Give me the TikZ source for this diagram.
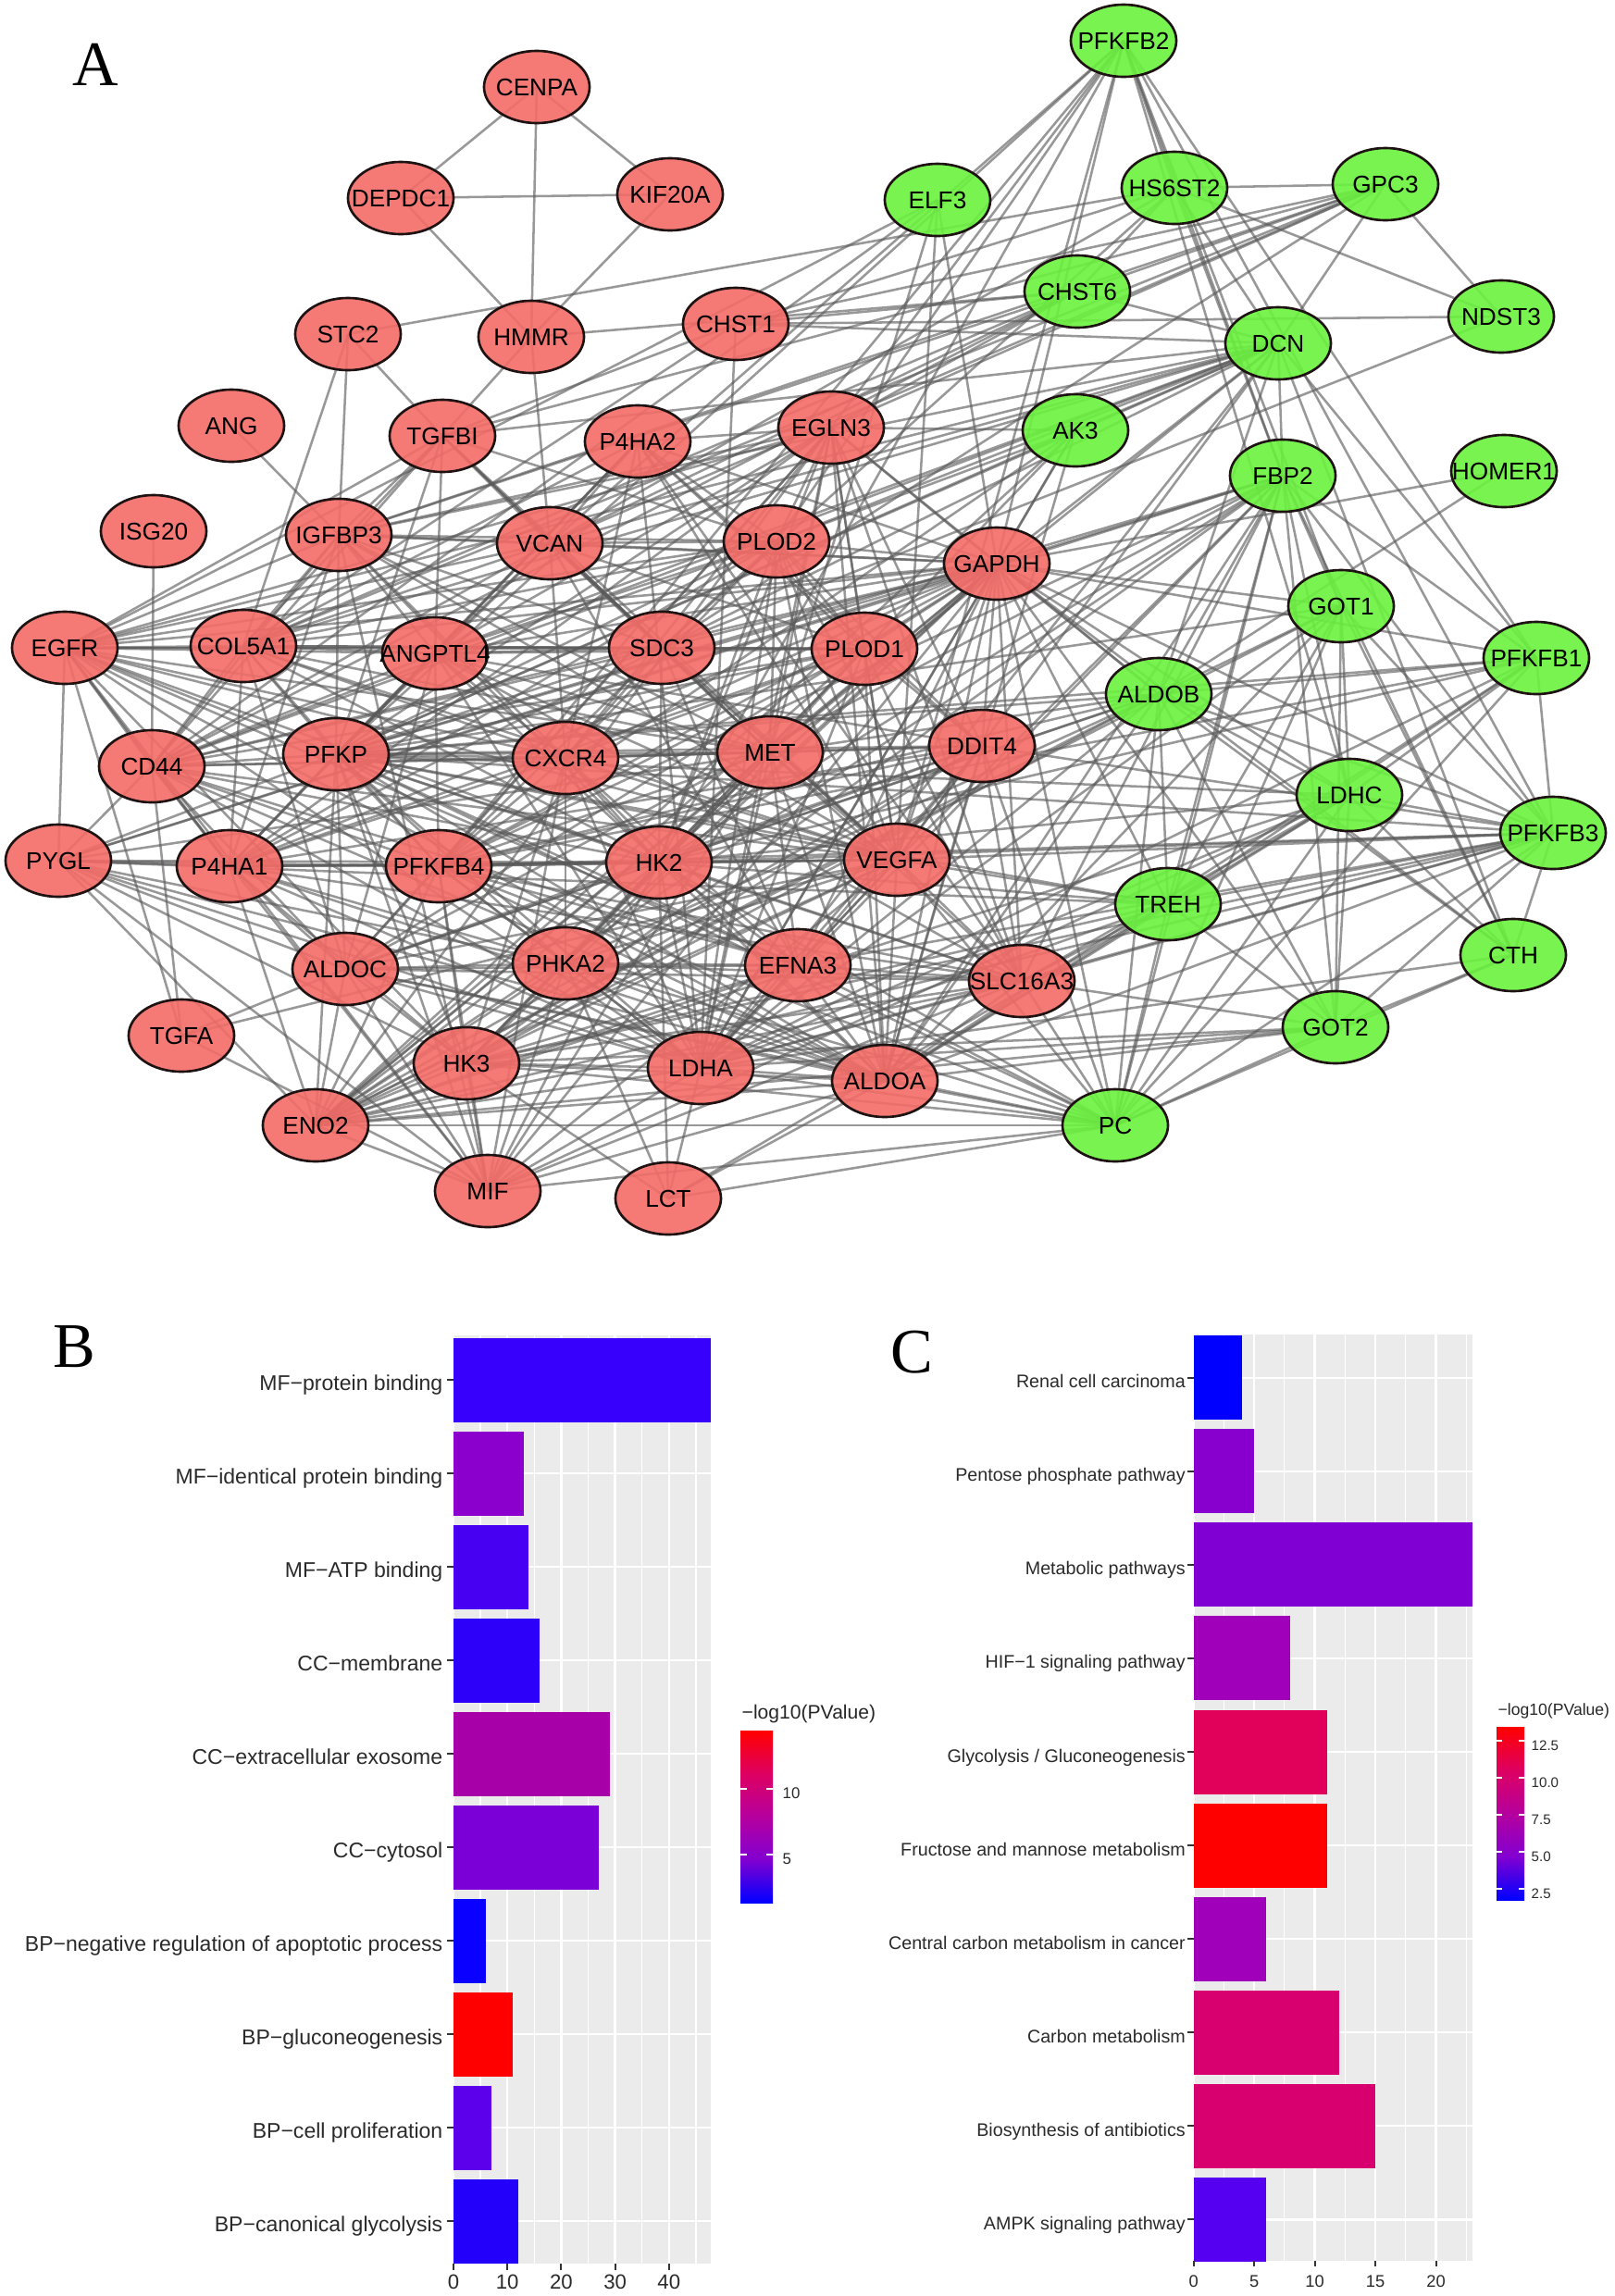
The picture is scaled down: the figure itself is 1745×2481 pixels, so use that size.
\documentclass[tikz,border=0pt]{standalone}
\usepackage{fontspec}
\setmainfont{Liberation Sans}
\newfontfamily\seriffont{Liberation Serif}
\usetikzlibrary{shapes.geometric}
\pgfdeclarelayer{bg}
\pgfdeclarelayer{paper}
\pgfsetlayers{paper,bg,main}
\definecolor{nred}{RGB}{244,108,104}
\definecolor{ngreen}{RGB}{106,242,62}
\definecolor{nborder}{RGB}{30,18,18}
\definecolor{edgec}{RGB}{90,90,90}
\definecolor{panelbg}{RGB}{235,235,235}
\definecolor{axtxt}{RGB}{42,42,42}
\definecolor{tickc}{RGB}{51,51,51}
% bar colours B
\definecolor{bB0}{RGB}{55,0,252}
\definecolor{bB1}{RGB}{140,0,205}
\definecolor{bB2}{RGB}{72,0,242}
\definecolor{bB3}{RGB}{45,0,250}
\definecolor{bB4}{RGB}{168,0,168}
\definecolor{bB5}{RGB}{122,0,215}
\definecolor{bB6}{RGB}{10,0,255}
\definecolor{bB7}{RGB}{255,0,0}
\definecolor{bB8}{RGB}{92,0,235}
\definecolor{bB9}{RGB}{35,0,250}
% bar colours C
\definecolor{bC0}{RGB}{0,0,255}
\definecolor{bC1}{RGB}{135,0,205}
\definecolor{bC2}{RGB}{128,0,212}
\definecolor{bC3}{RGB}{160,0,185}
\definecolor{bC4}{RGB}{225,0,90}
\definecolor{bC5}{RGB}{255,0,0}
\definecolor{bC6}{RGB}{160,0,185}
\definecolor{bC7}{RGB}{215,0,110}
\definecolor{bC8}{RGB}{215,0,110}
\definecolor{bC9}{RGB}{85,0,240}
\pgfdeclareverticalshading{pval}{100bp}{rgb(0bp)=(0,0,1); rgb(25bp)=(0,0,1); rgb(37.5bp)=(0.51,0,0.82); rgb(50bp)=(0.71,0,0.62); rgb(62.5bp)=(0.87,0,0.38); rgb(75bp)=(1,0,0); rgb(100bp)=(1,0,0)}
\tikzset{
  gene/.style={ellipse, draw=nborder, line width=0.75pt, minimum width=1.14cm, minimum height=0.78cm,
    inner sep=0pt, fill opacity=0.9, text opacity=1, font=\fontsize{7.45}{8}\selectfont},
  rgene/.style={gene, fill=nred},
  ggene/.style={gene, fill=ngreen},
  edge/.style={draw=edgec, line width=0.72pt, draw opacity=0.62},
  panelletter/.style={inner sep=0pt, font=\seriffont\fontsize{19.5}{20}\selectfont},
  blab/.style={anchor=mid east, inner sep=0pt, text=axtxt, font=\fontsize{6.55}{7}\selectfont},
  clab/.style={anchor=mid east, inner sep=0pt, text=axtxt, font=\fontsize{5.6}{6}\selectfont},
  bnum/.style={anchor=north, inner sep=0pt, text=axtxt, font=\fontsize{6.3}{7}\selectfont},
  cnum/.style={anchor=north, inner sep=0pt, text=axtxt, font=\fontsize{5.2}{6}\selectfont},
  majgrid/.style={draw=white, line width=0.7pt},
  mingrid/.style={draw=white, line width=0.35pt},
  axtick/.style={draw=tickc, line width=0.6pt},
}
\begin{document}
\begin{tikzpicture}[x=0.01cm,y=-0.01cm]
\begin{pgfonlayer}{paper}
\fill[white] (0,0) rectangle (1745,2481);
\end{pgfonlayer}
\useasboundingbox (0,0) rectangle (1745,2481);

% ---------------- Panel A: network ----------------
\node[panelletter] (letA) at (103,70) {A};

\foreach \n/\x/\y in {CENPA/580/94, DEPDC1/433/214, KIF20A/724/210, STC2/376/361, HMMR/574/364,
  CHST1/795/350, ANG/250/460, TGFBI/478/471, P4HA2/689/477, EGLN3/898/462, ISG20/166/574,
  IGFBP3/366/578, VCAN/594/587, PLOD2/839/585, GAPDH/1077/609, EGFR/70/700, COL5A1/263/698,
  ANGPTL4/470/706, SDC3/715/700, PLOD1/934/701, CD44/164/828, PFKP/363/815, CXCR4/611/819,
  MET/832/813, DDIT4/1061/806, PYGL/63/930, P4HA1/248/936, PFKFB4/474/936, HK2/712/932,
  VEGFA/969/929, ALDOC/373/1047, PHKA2/611/1041, EFNA3/862/1043, SLC16A3/1104/1060,
  TGFA/196/1119, HK3/504/1149, LDHA/757/1154, ALDOA/956/1168, ENO2/341/1216, MIF/527/1287,
  LCT/722/1295}
  \node[rgene] (\n) at (\x,\y) {\makebox[0pt]{\n}};

\foreach \n/\x/\y in {PFKFB2/1214/44, ELF3/1013/216, HS6ST2/1269/203, GPC3/1497/199,
  CHST6/1164/315, DCN/1381/371, NDST3/1622/342, AK3/1162/465, FBP2/1386/514, HOMER1/1625/509,
  GOT1/1449/655, PFKFB1/1660/711, ALDOB/1252/750, LDHC/1458/859, PFKFB3/1678/900,
  TREH/1262/977, CTH/1635/1032, GOT2/1443/1110, PC/1205/1216}
  \node[ggene] (\n) at (\x,\y) {\makebox[0pt]{\n}};

\begin{pgfonlayer}{bg}
\foreach \a/\b in {
CENPA/DEPDC1,CENPA/KIF20A,CENPA/HMMR,DEPDC1/KIF20A,DEPDC1/HMMR,KIF20A/HMMR,
HMMR/TGFBI,HMMR/VCAN,HMMR/CHST6,
STC2/TGFBI,STC2/IGFBP3,STC2/COL5A1,STC2/HS6ST2,
ANG/IGFBP3,ISG20/CD44,
CHST1/NDST3,CHST1/CHST6,CHST1/HS6ST2,CHST1/GPC3,CHST1/DCN,CHST1/TGFBI,CHST1/LDHA,CHST1/COL5A1,
PFKFB2/HS6ST2,HS6ST2/GPC3,HS6ST2/NDST3,HS6ST2/CHST6,HS6ST2/DCN,HS6ST2/FBP2,HS6ST2/SDC3,HS6ST2/VCAN,
GPC3/NDST3,GPC3/DCN,GPC3/CHST6,GPC3/SDC3,GPC3/VCAN,GPC3/IGFBP3,GPC3/TGFBI,GPC3/COL5A1,GPC3/EGLN3,
NDST3/SDC3,
CHST6/DCN,CHST6/VCAN,CHST6/IGFBP3,CHST6/CD44,CHST6/COL5A1,CHST6/EGLN3,
DCN/TGFBI,DCN/VCAN,DCN/COL5A1,DCN/IGFBP3,DCN/EGFR,DCN/MET,DCN/CD44,DCN/VEGFA,DCN/SDC3,DCN/ANGPTL4,DCN/PLOD2,DCN/FBP2,DCN/PFKFB1,DCN/CTH,DCN/ALDOB,DCN/GAPDH,DCN/PFKP,DCN/LDHA,
PFKFB2/FBP2,PFKFB2/PFKFB3,PFKFB2/PFKFB1,PFKFB2/LDHC,PFKFB2/GOT1,PFKFB2/EGLN3,PFKFB2/PLOD2,PFKFB2/GAPDH,PFKFB2/PFKP,PFKFB2/HK2,PFKFB2/PFKFB4,PFKFB2/VEGFA,PFKFB2/VCAN,
ELF3/EGFR,ELF3/MET,ELF3/CD44,ELF3/VEGFA,ELF3/GAPDH,
AK3/GAPDH,AK3/PFKP,AK3/HK2,AK3/ALDOA,AK3/LDHA,AK3/EGLN3,AK3/PLOD2,AK3/DCN,AK3/ENO2,AK3/PFKFB4,
HOMER1/GAPDH,HOMER1/ALDOB,
FBP2/GOT1,FBP2/LDHC,FBP2/PFKFB1,FBP2/PFKFB3,FBP2/CTH,FBP2/GOT2,FBP2/PC,FBP2/TREH,FBP2/ALDOB,FBP2/ALDOA,FBP2/LDHA,FBP2/GAPDH,FBP2/HK2,FBP2/PFKP,FBP2/ENO2,FBP2/ALDOC,FBP2/PFKFB4,FBP2/HK3,FBP2/PYGL,FBP2/VEGFA,FBP2/SLC16A3,
GOT1/GOT2,GOT1/LDHC,GOT1/PC,GOT1/CTH,GOT1/ALDOB,GOT1/GAPDH,GOT1/LDHA,GOT1/PFKFB3,GOT1/TREH,GOT1/ALDOA,GOT1/ENO2,GOT1/PFKP,
PFKFB1/PFKFB3,PFKFB1/ALDOB,PFKFB1/LDHC,PFKFB1/PFKP,PFKFB1/HK2,PFKFB1/GAPDH,PFKFB1/PFKFB4,PFKFB1/ALDOA,PFKFB1/LDHA,PFKFB1/TREH,PFKFB1/PC,
ALDOB/LDHC,ALDOB/TREH,ALDOB/PC,ALDOB/GOT2,ALDOB/PFKFB3,ALDOB/GAPDH,ALDOB/ALDOA,ALDOB/ALDOC,ALDOB/LDHA,ALDOB/HK2,ALDOB/PFKP,ALDOB/ENO2,ALDOB/HK3,ALDOB/PFKFB4,ALDOB/EGLN3,ALDOB/CTH,ALDOB/PYGL,ALDOB/PHKA2,
LDHC/GOT2,LDHC/PFKFB3,LDHC/CTH,LDHC/PC,LDHC/TREH,LDHC/LDHA,LDHC/GAPDH,LDHC/ALDOA,LDHC/ENO2,LDHC/HK2,LDHC/PFKP,LDHC/SLC16A3,LDHC/MIF,
PFKFB3/CTH,PFKFB3/GOT2,PFKFB3/TREH,PFKFB3/PC,PFKFB3/VEGFA,PFKFB3/HK2,PFKFB3/GAPDH,PFKFB3/PFKP,PFKFB3/PFKFB4,PFKFB3/LDHA,PFKFB3/ALDOA,PFKFB3/SLC16A3,PFKFB3/ENO2,PFKFB3/HK3,PFKFB3/DDIT4,PFKFB3/EFNA3,
TREH/PC,TREH/GOT2,TREH/HK2,TREH/GAPDH,TREH/PYGL,TREH/LCT,TREH/ALDOA,TREH/HK3,TREH/LDHA,TREH/VEGFA,TREH/SLC16A3,TREH/PFKP,
CTH/GOT2,CTH/PC,CTH/LDHA,CTH/GAPDH,
GOT2/PC,GOT2/ALDOA,GOT2/LDHA,GOT2/GAPDH,GOT2/ENO2,GOT2/HK3,GOT2/SLC16A3,
PC/ALDOA,PC/LDHA,PC/GAPDH,PC/ENO2,PC/HK2,PC/HK3,PC/PFKP,PC/SLC16A3,PC/VEGFA,PC/DDIT4,PC/EFNA3,PC/MIF,PC/LCT,PC/PHKA2,PC/ALDOC,PC/PFKFB4,
TGFBI/COL5A1,TGFBI/IGFBP3,TGFBI/VCAN,TGFBI/CD44,TGFBI/EGFR,TGFBI/SDC3,TGFBI/MET,TGFBI/ANGPTL4,TGFBI/VEGFA,TGFBI/PLOD2,TGFBI/PFKP,
P4HA2/EGLN3,P4HA2/PLOD2,P4HA2/PLOD1,P4HA2/P4HA1,P4HA2/VEGFA,P4HA2/DDIT4,P4HA2/ANGPTL4,P4HA2/SLC16A3,P4HA2/COL5A1,P4HA2/CXCR4,P4HA2/VCAN,P4HA2/GAPDH,P4HA2/PFKP,P4HA2/LDHA,
EGLN3/VEGFA,EGLN3/DDIT4,EGLN3/SLC16A3,EGLN3/GAPDH,EGLN3/PLOD1,EGLN3/PLOD2,EGLN3/P4HA1,EGLN3/ANGPTL4,EGLN3/HK2,EGLN3/PFKP,EGLN3/PFKFB4,EGLN3/LDHA,EGLN3/ALDOA,EGLN3/ALDOC,EGLN3/ENO2,EGLN3/CXCR4,EGLN3/EGFR,EGLN3/MET,EGLN3/IGFBP3,
IGFBP3/VCAN,IGFBP3/COL5A1,IGFBP3/EGFR,IGFBP3/CD44,IGFBP3/PFKP,IGFBP3/ANGPTL4,IGFBP3/VEGFA,IGFBP3/SDC3,IGFBP3/MET,IGFBP3/CXCR4,IGFBP3/PLOD2,IGFBP3/GAPDH,IGFBP3/MIF,IGFBP3/P4HA1,IGFBP3/HK2,
VCAN/COL5A1,VCAN/CD44,VCAN/SDC3,VCAN/EGFR,VCAN/VEGFA,VCAN/PLOD2,VCAN/ANGPTL4,VCAN/MET,VCAN/CXCR4,VCAN/PLOD1,VCAN/GAPDH,VCAN/PFKP,VCAN/EFNA3,
PLOD2/PLOD1,PLOD2/P4HA1,PLOD2/VEGFA,PLOD2/GAPDH,PLOD2/COL5A1,PLOD2/SDC3,PLOD2/ANGPTL4,PLOD2/DDIT4,PLOD2/SLC16A3,PLOD2/HK2,PLOD2/PFKP,PLOD2/LDHA,PLOD2/ALDOA,PLOD2/CXCR4,PLOD2/MET,PLOD2/EGFR,PLOD2/CD44,
GAPDH/PLOD1,GAPDH/VEGFA,GAPDH/DDIT4,GAPDH/SLC16A3,GAPDH/HK2,GAPDH/PFKP,GAPDH/PFKFB4,GAPDH/ALDOA,GAPDH/ALDOC,GAPDH/LDHA,GAPDH/ENO2,GAPDH/HK3,GAPDH/PHKA2,GAPDH/MIF,GAPDH/MET,GAPDH/EGFR,GAPDH/CD44,GAPDH/SDC3,GAPDH/CXCR4,GAPDH/P4HA1,GAPDH/EFNA3,GAPDH/PYGL,GAPDH/COL5A1,GAPDH/ANGPTL4,
EGFR/COL5A1,EGFR/CD44,EGFR/VEGFA,EGFR/MET,EGFR/CXCR4,EGFR/ANGPTL4,EGFR/EFNA3,EGFR/SDC3,EGFR/TGFA,EGFR/HK2,EGFR/PFKP,EGFR/PLOD1,EGFR/MIF,EGFR/LDHA,EGFR/P4HA1,EGFR/PYGL,EGFR/ALDOA,EGFR/HK3,
COL5A1/ANGPTL4,COL5A1/SDC3,COL5A1/CD44,COL5A1/PFKP,COL5A1/P4HA1,COL5A1/PLOD1,COL5A1/VEGFA,COL5A1/MET,COL5A1/CXCR4,COL5A1/PFKFB4,COL5A1/HK2,COL5A1/ALDOC,
ANGPTL4/SDC3,ANGPTL4/CXCR4,ANGPTL4/VEGFA,ANGPTL4/PFKP,ANGPTL4/PFKFB4,ANGPTL4/PLOD1,ANGPTL4/DDIT4,ANGPTL4/SLC16A3,ANGPTL4/HK2,ANGPTL4/LDHA,ANGPTL4/CD44,ANGPTL4/P4HA1,ANGPTL4/MET,ANGPTL4/ALDOC,
SDC3/PLOD1,SDC3/CXCR4,SDC3/MET,SDC3/VEGFA,SDC3/CD44,SDC3/PFKP,SDC3/HK2,SDC3/EFNA3,SDC3/P4HA1,SDC3/PFKFB4,
PLOD1/P4HA1,PLOD1/VEGFA,PLOD1/DDIT4,PLOD1/SLC16A3,PLOD1/HK2,PLOD1/LDHA,PLOD1/ALDOA,PLOD1/MET,PLOD1/CXCR4,PLOD1/PFKP,PLOD1/CD44,PLOD1/PFKFB4,PLOD1/ENO2,
CD44/PFKP,CD44/MET,CD44/CXCR4,CD44/VEGFA,CD44/HK2,CD44/LDHA,CD44/ALDOA,CD44/P4HA1,CD44/PFKFB4,CD44/MIF,CD44/PYGL,CD44/EFNA3,CD44/ALDOC,
PFKP/CXCR4,PFKP/MET,PFKP/PFKFB4,PFKP/HK2,PFKP/HK3,PFKP/ALDOA,PFKP/ALDOC,PFKP/ENO2,PFKP/LDHA,PFKP/PYGL,PFKP/PHKA2,PFKP/P4HA1,PFKP/SLC16A3,PFKP/VEGFA,PFKP/DDIT4,PFKP/MIF,PFKP/EFNA3,
CXCR4/MET,CXCR4/VEGFA,CXCR4/HK2,CXCR4/PFKFB4,CXCR4/P4HA1,CXCR4/DDIT4,CXCR4/EFNA3,CXCR4/MIF,CXCR4/LDHA,CXCR4/ALDOA,CXCR4/PHKA2,CXCR4/HK3,
MET/VEGFA,MET/DDIT4,MET/HK2,MET/EFNA3,MET/SLC16A3,MET/LDHA,MET/ALDOA,MET/PFKFB4,MET/ENO2,MET/HK3,MET/MIF,MET/PHKA2,
DDIT4/VEGFA,DDIT4/SLC16A3,DDIT4/HK2,DDIT4/LDHA,DDIT4/ALDOA,DDIT4/ENO2,DDIT4/PFKFB4,DDIT4/EFNA3,DDIT4/P4HA1,DDIT4/ALDOC,DDIT4/HK3,
PYGL/P4HA1,PYGL/PFKFB4,PYGL/HK2,PYGL/PHKA2,PYGL/ALDOC,PYGL/ALDOA,PYGL/LDHA,PYGL/HK3,PYGL/ENO2,PYGL/MIF,
P4HA1/PFKFB4,P4HA1/HK2,P4HA1/VEGFA,P4HA1/SLC16A3,P4HA1/ALDOC,P4HA1/LDHA,P4HA1/ALDOA,P4HA1/ENO2,P4HA1/PHKA2,P4HA1/HK3,
PFKFB4/HK2,PFKFB4/VEGFA,PFKFB4/ALDOC,PFKFB4/PHKA2,PFKFB4/HK3,PFKFB4/LDHA,PFKFB4/ALDOA,PFKFB4/ENO2,PFKFB4/SLC16A3,PFKFB4/MIF,PFKFB4/EFNA3,
HK2/VEGFA,HK2/ALDOC,HK2/PHKA2,HK2/HK3,HK2/LDHA,HK2/ALDOA,HK2/ENO2,HK2/SLC16A3,HK2/EFNA3,HK2/MIF,HK2/LCT,
VEGFA/SLC16A3,VEGFA/EFNA3,VEGFA/LDHA,VEGFA/ALDOA,VEGFA/ENO2,VEGFA/MIF,VEGFA/ALDOC,VEGFA/PHKA2,VEGFA/HK3,
ALDOC/PHKA2,ALDOC/HK3,ALDOC/LDHA,ALDOC/ALDOA,ALDOC/ENO2,ALDOC/MIF,ALDOC/SLC16A3,ALDOC/EFNA3,ALDOC/TGFA,
PHKA2/HK3,PHKA2/LDHA,PHKA2/ALDOA,PHKA2/ENO2,PHKA2/EFNA3,PHKA2/SLC16A3,PHKA2/LCT,PHKA2/MIF,
EFNA3/LDHA,EFNA3/ALDOA,EFNA3/SLC16A3,EFNA3/HK3,EFNA3/ENO2,
SLC16A3/LDHA,SLC16A3/ALDOA,SLC16A3/ENO2,SLC16A3/HK3,SLC16A3/MIF,
TGFA/CD44,TGFA/VEGFA,TGFA/MIF,
HK3/LDHA,HK3/ALDOA,HK3/ENO2,HK3/MIF,HK3/LCT,
LDHA/ALDOA,LDHA/ENO2,LDHA/MIF,LDHA/LCT,
ALDOA/ENO2,ALDOA/MIF,ALDOA/LCT,
ENO2/MIF}
  \draw[edge] (\a.center) -- (\b.center);
\end{pgfonlayer}

% ---------------- Panel B ----------------
\node[panelletter] (letB) at (80,1455) {B};
\fill[panelbg] (490,1443) rectangle (768,2446);
\foreach \v in {5,15,25,35,45}
  \draw[mingrid] ({490+5.82*\v},1443) -- ({490+5.82*\v},2446);
\foreach \v in {0,10,20,30,40}
  \draw[majgrid] ({490+5.82*\v},1443) -- ({490+5.82*\v},2446);
\foreach \i in {0,...,9}
  \draw[majgrid] (490,{1491+101*\i}) -- (768,{1491+101*\i});
\foreach \v/\c [count=\i from 0] in {47.77/bB0,13/bB1,14/bB2,16/bB3,29/bB4,27/bB5,6/bB6,11/bB7,7/bB8,12/bB9}
  \fill[\c] (490,{1491+101*\i-45.5}) rectangle ({490+5.82*\v},{1491+101*\i+45.5});
\foreach \i in {0,...,9}
  \draw[axtick] (483,{1491+101*\i}) -- (490,{1491+101*\i});
\foreach \v in {0,10,20,30,40} {
  \draw[axtick] ({490+5.82*\v},2446) -- ({490+5.82*\v},2453);
  \node[bnum] (bx\v) at ({490+5.82*\v},2457) {\v};
}
\foreach \t [count=\i from 0] in {MF−protein binding,MF−identical protein binding,MF−ATP binding,
  CC−membrane,CC−extracellular exosome,CC−cytosol,BP−negative regulation of apoptotic process,
  BP−gluconeogenesis,BP−cell proliferation,BP−canonical glycolysis}
  \node[blab] (bl\i) at (479,{1493+101*\i}) {\t};
% legend B
\node[anchor=mid west, inner sep=0pt, font=\fontsize{6}{7}\selectfont, text=black!85] (bleg) at (801,1848) {−log10(PValue)};
\shade[shading=pval] (800,1870) rectangle (835,2056);
\foreach \y/\t in {1933/10,2004/5} {
  \draw[white, line width=0.5pt] (800,\y) -- (807,\y);
  \draw[white, line width=0.5pt] (828,\y) -- (835,\y);
  \node[anchor=mid west, inner sep=0pt, font=\fontsize{4.8}{5}\selectfont, text=axtxt] (bt\t) at (845,\y+1) {\t};
}

% ---------------- Panel C ----------------
\node[panelletter] (letC) at (985,1461) {C};
\fill[panelbg] (1289.6,1442) rectangle (1590.7,2442.5);
\foreach \v in {2.5,7.5,12.5,17.5,22.5}
  \draw[mingrid] ({1289.6+13.1*\v},1442) -- ({1289.6+13.1*\v},2442.5);
\foreach \v in {0,5,10,15,20}
  \draw[majgrid] ({1289.6+13.1*\v},1442) -- ({1289.6+13.1*\v},2442.5);
\foreach \i in {0,...,9}
  \draw[majgrid] (1289.6,{1488.8+101.05*\i}) -- (1590.7,{1488.8+101.05*\i});
\foreach \v/\c [count=\i from 0] in {4/bC0,5/bC1,22.98/bC2,8/bC3,11/bC4,11/bC5,6/bC6,12/bC7,15/bC8,6/bC9}
  \fill[\c] (1289.6,{1488.8+101.05*\i-45.5}) rectangle ({1289.6+13.1*\v},{1488.8+101.05*\i+45.5});
\foreach \i in {0,...,9}
  \draw[axtick] (1283,{1488.8+101.05*\i}) -- (1289.6,{1488.8+101.05*\i});
\foreach \v in {0,5,10,15,20} {
  \draw[axtick] ({1289.6+13.1*\v},2442.5) -- ({1289.6+13.1*\v},2449);
  \node[cnum] (cx\v) at ({1289.6+13.1*\v},2458) {\v};
}
\foreach \t [count=\i from 0] in {Renal cell carcinoma,Pentose phosphate pathway,Metabolic pathways,
  HIF−1 signaling pathway,{Glycolysis / Gluconeogenesis},Fructose and mannose metabolism,
  Central carbon metabolism in cancer,Carbon metabolism,Biosynthesis of antibiotics,AMPK signaling pathway}
  \node[clab] (cl\i) at (1281.5,{1490.5+101.05*\i}) {\t};
% legend C
\node[anchor=mid west, inner sep=0pt, font=\fontsize{5}{6}\selectfont, text=black!85] (cleg) at (1618,1844) {−log10(PValue)};
\shade[shading=pval] (1617,1866) rectangle (1647,2053);
\foreach \y/\t [count=\k] in {1880.7/12.5,1920.7/10.0,1960.8/7.5,2000.8/5.0,2040.8/2.5} {
  \draw[white, line width=0.5pt] (1617,\y) -- (1623,\y);
  \draw[white, line width=0.5pt] (1641,\y) -- (1647,\y);
  \node[anchor=mid west, inner sep=0pt, font=\fontsize{4.3}{5}\selectfont, text=axtxt] (ct\k) at (1654,\y+1) {\t};
}
\end{tikzpicture}
\end{document}
